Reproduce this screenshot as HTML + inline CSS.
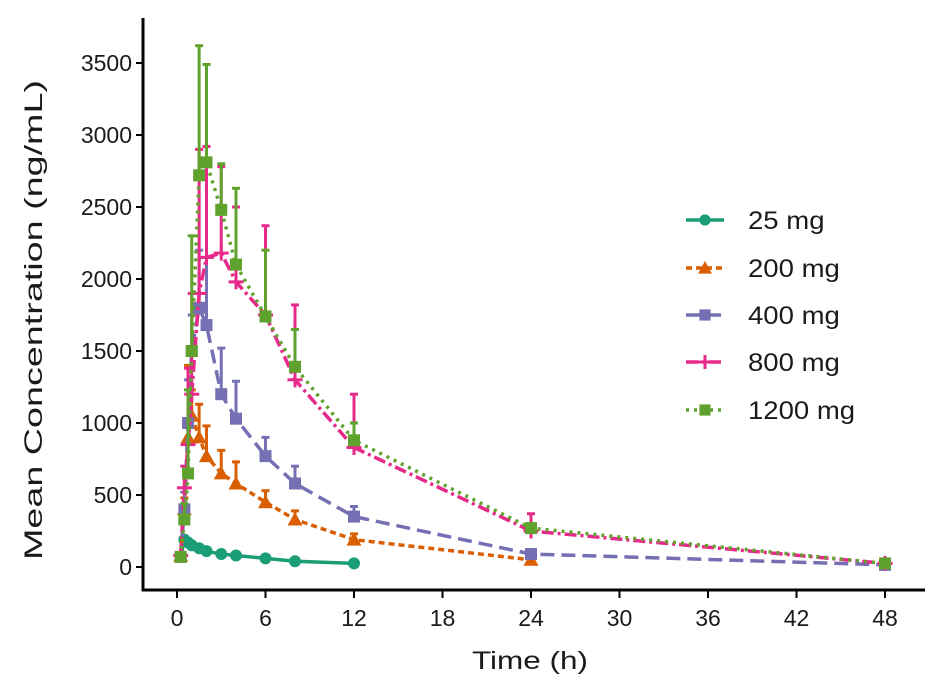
<!DOCTYPE html>
<html><head><meta charset="utf-8"><style>
body{margin:0;background:#fff}
svg{display:block;font-family:"Liberation Sans",sans-serif}
</style></head><body>
<svg id="s" width="945" height="692" viewBox="0 0 945 692" xmlns="http://www.w3.org/2000/svg">
<rect width="945" height="692" fill="#fff"/>
<line x1="143" y1="18" x2="143" y2="591" stroke="#000" stroke-width="3"/>
<line x1="142" y1="590" x2="925" y2="590" stroke="#000" stroke-width="3"/>
<g id="ticks" font-size="23" fill="#1a1a1a"></g>
<text x="530" y="669" font-size="25" text-anchor="middle" fill="#1a1a1a" textLength="116" lengthAdjust="spacingAndGlyphs">Time (h)</text>
<text transform="translate(42,320) rotate(-90)" font-size="25" text-anchor="middle" fill="#1a1a1a" textLength="480" lengthAdjust="spacingAndGlyphs">Mean Concentration (ng/mL)</text>
<g id="data"></g>
<g id="leg" font-size="25" fill="#1a1a1a"></g>
</svg>
<script>
const NS="http://www.w3.org/2000/svg";
function el(p,t,a,txt){const e=document.createElementNS(NS,t);for(const k in a)e.setAttribute(k,a[k]);if(txt!=null)e.textContent=txt;p.appendChild(e);return e;}
const X=t=>177+14.75*t, Y=c=>567-c*0.144;
const tk=document.getElementById('ticks');
for(let c=0;c<=3500;c+=500){el(tk,'line',{x1:136,x2:143,y1:Y(c),y2:Y(c),stroke:'#000','stroke-width':2});el(tk,'text',{x:132,y:Y(c)+8,'text-anchor':'end'},c);}
for(let t=0;t<=48;t+=6){el(tk,'line',{x1:X(t),x2:X(t),y1:590,y2:598,stroke:'#000','stroke-width':2});el(tk,'text',{x:X(t),y:626,'text-anchor':'middle'},t);}
const T=[0.25,0.5,0.75,1,1.5,2,3,4,6,8,12,24,48];
const S=[
{c:'#1b9e77',d:'',m:'circle',v:[70,190,170,150,130,110,90,80,60,40,25],e:[90,210,190,175,150,130,105,90,70,50,30]},
{c:'#d95f02',d:'6,4',m:'tri',v:[80,400,900,1050,900,770,650,580,450,330,190,50],e:[100,480,1400,1230,1130,980,810,730,530,390,230,70]},
{c:'#7570b3',d:'14,7',m:'sq',v:[70,400,1000,1500,1800,1680,1200,1030,770,580,350,90,15],e:[90,520,1300,1750,2200,2150,1520,1290,900,700,420,110,25]},
{c:'#e7298a',d:'12,4,3,4',m:'plus',v:[80,550,850,1200,1900,2150,2180,1980,1750,1300,830,250,25],e:[100,700,1380,1900,2900,2920,2780,2500,2370,1820,1200,370,40]},
{c:'#5fa22e',d:'3,5',m:'sq',v:[70,330,650,1500,2720,2810,2480,2100,1740,1390,880,270,25],e:[90,440,1230,2300,3620,3490,2800,2630,2200,1650,1000,300,35]}
];
const g=document.getElementById('data');
function mark(p,s,x,y,sz){
 if(s.m=='circle')el(p,'circle',{cx:x,cy:y,r:sz*0.8,fill:s.c});
 else if(s.m=='tri')el(p,'polygon',{points:`${x},${y-sz} ${x-sz},${y+sz*0.8} ${x+sz},${y+sz*0.8}`,fill:s.c});
 else if(s.m=='sq')el(p,'rect',{x:x-sz*0.8,y:y-sz*0.8,width:sz*1.6,height:sz*1.6,fill:s.c});
 else{el(p,'line',{x1:x-sz,x2:x+sz,y1:y,y2:y,stroke:s.c,'stroke-width':3});el(p,'line',{x1:x,x2:x,y1:y-sz,y2:y+sz,stroke:s.c,'stroke-width':3});}
}
S.forEach(s=>{
 let pts=s.v.map((v,i)=>X(T[i])+','+Y(v)).join(' ');
 s.v.forEach((v,i)=>{const x=X(T[i]);el(g,'line',{x1:x,x2:x,y1:Y(v),y2:Y(s.e[i]),stroke:s.c,'stroke-width':3});el(g,'line',{x1:x-4,x2:x+4,y1:Y(s.e[i]),y2:Y(s.e[i]),stroke:s.c,'stroke-width':3});});
 const a={points:pts,fill:'none',stroke:s.c,'stroke-width':3.5};if(s.d)a['stroke-dasharray']=s.d;el(g,'polyline',a);
 s.v.forEach((v,i)=>mark(g,s,X(T[i]),Y(v),7.5));
});
const L=document.getElementById('leg');const names=['25 mg','200 mg','400 mg','800 mg','1200 mg'];const ly=[220,268,315,362,410];
S.forEach((s,i)=>{const a={x1:686,x2:724,y1:ly[i],y2:ly[i],stroke:s.c,'stroke-width':3.5};if(s.d)a['stroke-dasharray']=s.d;el(L,'line',a);mark(L,s,705,ly[i],7);el(L,'text',{x:748,y:ly[i]+9,textLength:names[i].length*15.3,lengthAdjust:'spacingAndGlyphs'},names[i]);});
</script>
</body></html>
